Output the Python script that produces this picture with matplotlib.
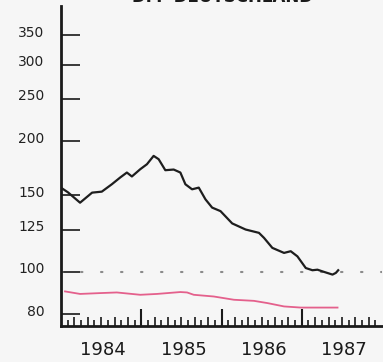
import matplotlib
matplotlib.use("Agg")
import matplotlib.pyplot as plt
import matplotlib.transforms as mtransforms
import numpy as np

# Data (months since Jan 1984)
black_months = [0.2, 1.05, 2.85, 4.65, 6.1, 7.6, 8.85, 9.85, 10.6, 11.85, 12.85, 13.85,
                14.6, 15.6, 16.85, 17.85, 18.6, 19.6, 20.6, 21.6, 22.6, 23.85, 25.6,
                27.6, 29.6, 30.35, 31.6, 33.35, 34.35, 35.35, 36.6, 37.6, 38.35, 39.35,
                40.6, 41.1, 41.45]
black_values = [155.5, 152.4, 144.3, 152.2, 153.0, 159.1, 164.9, 169.3, 165.8, 172.3, 176.9,
                184.9, 181.7, 171.4, 172.0, 169.3, 159.1, 154.9, 156.3, 146.9, 140.6, 138.0,
                129.3, 125.2, 123.0, 119.8, 113.6, 110.6, 111.6, 108.6, 102.1, 100.9, 101.2,
                100.0, 98.6, 99.5, 100.9]

red_months = [0.6, 2.85, 5.85, 8.35, 11.85, 14.35, 17.85, 18.85, 19.85, 22.85, 25.85,
              28.85, 30.85, 33.35, 35.85, 38.35, 41.35]
red_values = [90.2, 89.0, 89.4, 89.7, 88.6, 89.0, 89.9, 89.7, 88.6, 87.8, 86.3, 85.8,
              84.8, 83.3, 82.8, 82.8, 82.8]

y_ticks = [80, 100, 125, 150, 200, 250, 300, 350]
year_labels = ["1984", "1985", "1986", "1987"]
title = "DM  DEUTSCHLAND"
ref_level = 100

W, H = 383, 362
fig = plt.figure(figsize=(W / 100, H / 100), dpi=100)
fig.patch.set_facecolor("#f6f6f6")
ax = fig.add_axes([61 / W, 1 - 326 / H, (382 - 61) / W, (326 - 6) / H])
ax.set_facecolor("none")

ax.set_yscale("log")
ax.set_ylim(75.1, 409)
ax.set_xlim(0, 48)

# reference dotted line
ax.plot([0, 48], [ref_level, ref_level], color="#8a8a8a", lw=1.5,
        dashes=(0.7, 8.9), dash_capstyle="round", dash_joinstyle="round")
ax.lines[-1].set_dashes((0.7, 8.9))
ax.lines[-1].set_gapcolor(None)

ax.plot(black_months, black_values, color="#1e1e1e", lw=1.6, solid_joinstyle="round")
ax.plot(red_months, red_values, color="#e4608c", lw=1.3)

for s in ["top", "right"]:
    ax.spines[s].set_visible(False)
ax.spines["left"].set_linewidth(2)
ax.spines["bottom"].set_linewidth(2)
ax.spines["left"].set_color("#1a1a1a")
ax.spines["bottom"].set_color("#1a1a1a")

# y ticks
ax.yaxis.set_major_locator(matplotlib.ticker.FixedLocator(y_ticks))
ax.yaxis.set_minor_locator(matplotlib.ticker.NullLocator())
ax.set_yticklabels([str(v) for v in y_ticks])
ax.tick_params(axis="y", which="major", direction="in", length=13.5, width=1.2,
               color="#1a1a1a", pad=12, labelsize=10, labelcolor="#222222")
off = mtransforms.ScaledTranslation(0, 4 / 100, fig.dpi_scale_trans)
for lab in ax.get_yticklabels():
    lab.set_transform(lab.get_transform() + off)

# x ticks: years major, months minor
ax.set_xticks([12, 24, 36])
ax.set_xticklabels([])
odd_months = [m for m in range(1, 48) if m % 2 == 1]
ax.set_xticks(odd_months, minor=True)
ax.tick_params(axis="x", which="major", direction="in", length=12, width=1.5, color="#1a1a1a")
ax.tick_params(axis="x", which="minor", direction="in", length=4, width=1.2, color="#1a1a1a")
even_months = [m for m in range(2, 48, 2) if m % 12 != 0]
ax.vlines(even_months, 0, 9 / 320, transform=ax.get_xaxis_transform(),
          color="#1a1a1a", lw=1.2, clip_on=False)

year_off = mtransforms.ScaledTranslation(0, -24 / 100, fig.dpi_scale_trans)
for i, yl in enumerate(year_labels):
    ax.text(6 + 12 * i + 0.3, 0, yl, transform=ax.get_xaxis_transform() + year_off,
            ha="center", va="center", fontsize=13, color="#1a1a1a")

fig.text(222 / W, 1 - 2 / H, title, ha="center", va="baseline", fontsize=12,
         fontweight="bold", color="#1a1a1a")

fig.savefig("out.png", dpi=100, facecolor=fig.get_facecolor())
